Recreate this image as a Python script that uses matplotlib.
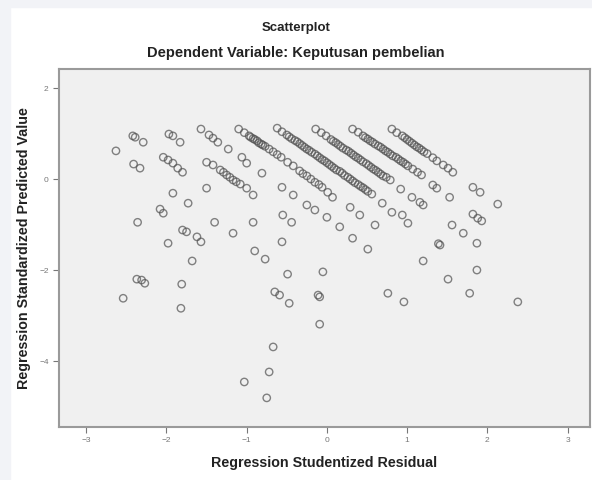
import numpy as np
import matplotlib
matplotlib.use("Agg")
import matplotlib.pyplot as plt
from matplotlib.patches import Rectangle

# (studentized residual, standardized predicted value)
band_1 = [(-1.57, 1.10), (-1.47, 0.97), (-1.42, 0.90), (-1.36, 0.81), (-1.23, 0.66)]
band_2 = [(-1.10, 1.10), (-1.03, 1.02), (-0.97, 0.95), (-0.92, 0.89), (-0.87, 0.84),
          (-0.82, 0.77), (-0.77, 0.72), (-0.72, 0.66), (-0.67, 0.60), (-0.62, 0.54),
          (-0.57, 0.48)]
band_3 = [(-0.62, 1.12), (-0.56, 1.04), (-0.50, 0.97), (-0.44, 0.89), (-0.37, 0.82),
          (-0.31, 0.74), (-0.25, 0.66), (-0.19, 0.59), (-0.12, 0.51), (-0.06, 0.43),
          (0.00, 0.36), (0.06, 0.28), (0.12, 0.20), (0.19, 0.13), (0.26, 0.04),
          (0.32, -0.04), (0.39, -0.12), (0.45, -0.19), (0.51, -0.27), (0.56, -0.33),
          (0.69, -0.53), (0.81, -0.73), (0.94, -0.79)]
band_4 = [(-0.14, 1.10), (-0.07, 1.02), (-0.01, 0.95), (0.05, 0.87), (0.11, 0.80),
          (0.17, 0.72), (0.24, 0.64), (0.30, 0.57), (0.36, 0.49), (0.42, 0.42),
          (0.49, 0.34), (0.55, 0.26), (0.61, 0.19), (0.67, 0.11), (0.74, 0.04),
          (0.79, -0.02), (0.92, -0.22), (1.06, -0.40), (1.16, -0.51), (1.20, -0.57)]
band_5 = [(0.32, 1.10), (0.39, 1.03), (0.45, 0.95), (0.51, 0.88), (0.57, 0.81),
          (0.64, 0.73), (0.70, 0.66), (0.76, 0.59), (0.82, 0.51), (0.89, 0.44),
          (0.95, 0.37), (1.01, 0.29), (1.07, 0.22), (1.13, 0.15), (1.18, 0.09),
          (1.32, -0.13), (1.37, -0.20), (1.53, -0.40)]
band_6 = [(0.81, 1.10), (0.87, 1.02), (0.94, 0.95), (1.00, 0.87), (1.06, 0.79),
          (1.12, 0.71), (1.18, 0.64), (1.25, 0.56), (1.32, 0.47), (1.37, 0.40),
          (1.45, 0.31), (1.51, 0.24), (1.57, 0.15), (1.82, -0.18), (1.91, -0.29),
          (2.13, -0.55)]
# overlapping circles where the bands look darkest
band_overlap = [(-0.95, 0.92), (-0.90, 0.87), (-0.85, 0.80), (-0.80, 0.75),
                (-0.47, 0.93), (-0.40, 0.85), (-0.34, 0.78), (-0.28, 0.70), (-0.22, 0.63),
                (-0.15, 0.55), (-0.09, 0.47), (-0.03, 0.40), (0.03, 0.32), (0.09, 0.24),
                (0.16, 0.17), (0.22, 0.08), (0.29, 0.00), (0.35, -0.08), (0.42, -0.16),
                (0.48, -0.23), (0.08, 0.83), (0.14, 0.76), (0.20, 0.68), (0.27, 0.61),
                (0.33, 0.53), (0.39, 0.46), (0.45, 0.38), (0.52, 0.30), (0.58, 0.22),
                (0.64, 0.15), (0.70, 0.07), (0.48, 0.91), (0.54, 0.84), (0.60, 0.77),
                (0.67, 0.70), (0.73, 0.62), (0.79, 0.55), (0.86, 0.48), (0.92, 0.40),
                (0.98, 0.33), (0.97, 0.91), (1.03, 0.83), (1.09, 0.75), (1.15, 0.68),
                (1.21, 0.60), (-1.29, 0.15), (-1.21, 0.04), (-1.13, -0.06),
                (-0.30, 0.12), (-0.20, 0.00), (-0.10, -0.12)]
left_top = [(-2.63, 0.62), (-2.42, 0.95), (-2.39, 0.92), (-2.29, 0.81), (-1.97, 0.99),
            (-1.92, 0.95), (-1.83, 0.81), (-2.41, 0.33), (-2.33, 0.24),
            (-2.04, 0.48), (-1.98, 0.42), (-1.92, 0.35), (-1.86, 0.24), (-1.80, 0.15)]
band_low_1 = [(-1.50, 0.37), (-1.42, 0.31), (-1.33, 0.20), (-1.25, 0.09), (-1.17, -0.02),
              (-1.08, -0.11), (-1.00, -0.20), (-0.92, -0.35), (-0.55, -0.79), (-0.44, -0.95)]
band_low_2 = [(-1.06, 0.48), (-1.00, 0.35), (-0.81, 0.13), (-0.56, -0.18), (-0.42, -0.35),
              (-0.25, -0.57), (-0.15, -0.68), (0.00, -0.84), (0.16, -1.05)]
band_low_3 = [(-0.49, 0.37), (-0.42, 0.29), (-0.34, 0.18), (-0.25, 0.07), (-0.15, -0.07),
              (-0.06, -0.18), (0.01, -0.29), (0.07, -0.40), (0.29, -0.62), (0.41, -0.79),
              (0.60, -1.01)]
scatter_left = [(-1.92, -0.31), (-1.73, -0.53), (-2.08, -0.66), (-2.04, -0.75), (-2.36, -0.95),
                (-1.50, -0.20), (-1.40, -0.95), (-0.92, -0.95), (-1.17, -1.19), (-1.80, -1.12),
                (-1.75, -1.16), (-1.62, -1.27), (-1.57, -1.38), (-1.98, -1.41), (-1.68, -1.80),
                (-2.37, -2.20), (-2.31, -2.22), (-2.27, -2.29), (-1.81, -2.31), (-2.54, -2.62),
                (-1.82, -2.84)]
scatter_mid = [(-0.56, -1.38), (-0.90, -1.58), (-0.77, -1.76), (0.32, -1.30), (0.51, -1.54),
               (-0.49, -2.09), (-0.05, -2.04), (-0.65, -2.48), (-0.59, -2.55), (-0.47, -2.73),
               (-0.11, -2.55), (-0.09, -2.59), (-0.09, -3.19), (-0.67, -3.69), (-0.72, -4.24),
               (-1.03, -4.46), (-0.75, -4.81)]
scatter_right = [(0.76, -2.51), (0.96, -2.70), (1.01, -0.97), (1.56, -1.01), (1.70, -1.19),
                 (1.87, -1.41), (1.41, -1.45), (1.39, -1.42), (1.82, -0.77), (1.88, -0.86),
                 (1.93, -0.92), (1.20, -1.80), (1.87, -2.00), (1.51, -2.20), (1.78, -2.51),
                 (2.38, -2.70)]

x_ticks = [-3, -2, -1, 0, 1, 2, 3]
y_ticks = [2, 0, -2, -4]

title = "Scatterplot"
subtitle = "Dependent Variable: Keputusan pembelian"
x_label = "Regression Studentized Residual"
y_label = "Regression Standardized Predicted Value"

groups = [band_1, band_2, band_3, band_4, band_5, band_6, band_overlap, left_top,
          band_low_1, band_low_2, band_low_3, scatter_left, scatter_mid, scatter_right]
pts = np.array([p for g in groups for p in g])

plt.rcParams['font.family'] = ['Liberation Sans', 'DejaVu Sans']

fig = plt.figure(figsize=(5.92, 4.80), dpi=100)
fig.patch.set_facecolor("white")
# light screenshot border on the top and left
fig.patches.append(Rectangle((0, 0), 10 / 592, 1, transform=fig.transFigure,
                             color="#f2f3f7", zorder=0))
fig.patches.append(Rectangle((0, 1 - 7 / 480), 1, 7 / 480, transform=fig.transFigure,
                             color="#f2f3f7", zorder=0))

ax = fig.add_axes([59 / 592, 1 - 427 / 480, 531 / 592, 358 / 480])
ax.set_facecolor("#f0f0f0")
ax.scatter(pts[:, 0], pts[:, 1], s=28, facecolors="none",
           edgecolors="#505050", linewidths=1.0, alpha=0.7)

ax.set_xlim(-3.34, 3.28)
ax.set_ylim(-5.45, 2.42)
ax.set_xticks(x_ticks)
ax.set_yticks(y_ticks)
ax.tick_params(labelsize=6, colors="#777777", length=4, width=0.8)
for s in ax.spines.values():
    s.set_color("#9a9a9a")
    s.set_linewidth(1.5)

ax.set_xlabel(x_label, fontsize=10.3, fontweight="bold", color="#222222", labelpad=8)
ax.set_ylabel(y_label, fontsize=10.3, fontweight="bold", color="#222222", labelpad=6)

fig.text(0.5, 1 - 28 / 480, title, ha="center", va="center",
         fontsize=9.5, fontweight="bold", color="#222222")
fig.text(0.5, 1 - 53 / 480, subtitle, ha="center", va="center",
         fontsize=10.5, fontweight="bold", color="#222222")

fig.savefig("out.png", dpi=100)
